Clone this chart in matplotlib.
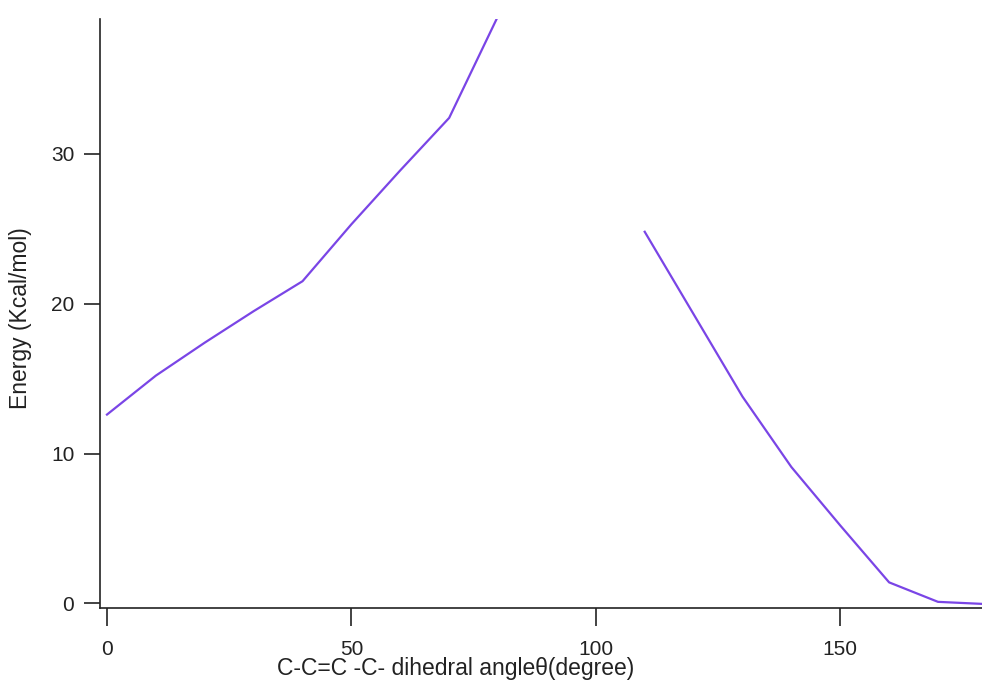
import matplotlib
matplotlib.use("Agg")
import matplotlib.pyplot as plt
import numpy as np

plt.rcParams['font.family'] = ['Liberation Sans', 'DejaVu Sans']

# dihedral scan, two branches (gap between 80 and 110 degrees)
angle1 = [0, 10, 20, 30, 40, 50, 60, 70, 80]
energy1 = [12.6, 15.2, 17.4, 19.5, 21.5, 25.3, 28.9, 32.4, 39.2]
angle2 = [110, 120, 130, 140, 150, 160, 170, 180]
energy2 = [24.8, 19.3, 13.8, 9.1, 5.2, 1.4, 0.1, -0.05]

line_color = '#7a45e6'

fig = plt.figure(figsize=(9.82, 6.91), dpi=100)
ax = fig.add_axes([100/982, 83/691, 882/982, 589/691])

ax.plot(angle1, energy1, color=line_color, lw=1.6)
ax.plot(angle2, energy2, color=line_color, lw=1.6)

ax.set_xlim(-1.43, 179)
ax.set_ylim(-0.31, 39.0)
ax.set_xticks([0, 50, 100, 150])
ax.set_yticks([0, 10, 20, 30])

for s in ['top', 'right']:
    ax.spines[s].set_visible(False)
for s in ['left', 'bottom']:
    ax.spines[s].set_linewidth(1.2)
    ax.spines[s].set_color('#222222')

ax.tick_params(axis='y', length=11.5, width=1.2, pad=7, labelsize=15, colors='#222222')
ax.tick_params(axis='x', length=13, width=1.2, pad=10, labelsize=15, colors='#222222')

ax.set_xlabel("C-C=C -C- dihedral angle\u03b8(degree)", fontsize=16.5, color='#222222')
ax.xaxis.set_label_coords((456-100)/882, (608-669)/589)
ax.xaxis.label.set_va('center')
ax.set_ylabel("Energy (Kcal/mol)", fontsize=16.5, color='#222222')
ax.yaxis.set_label_coords((21-100)/882, (608-318)/589)
ax.yaxis.label.set_va('center')

fig.savefig("out.png", dpi=100)
